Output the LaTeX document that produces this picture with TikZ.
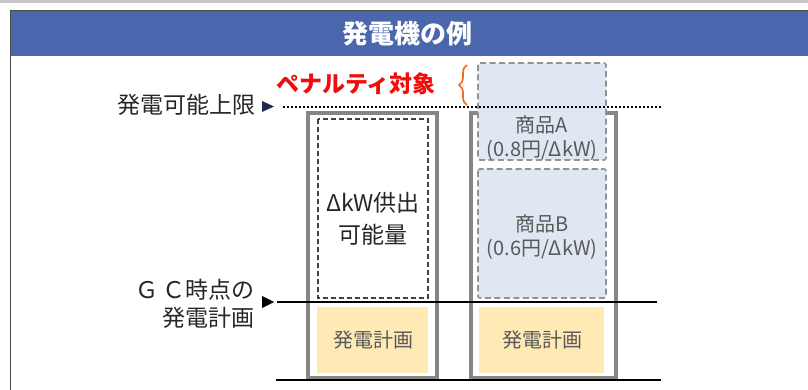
\documentclass[tikz,border=0pt]{standalone}
\usepackage{fontspec}
\setmainfont{Noto Sans CJK JP}
\usetikzlibrary{decorations.pathreplacing}
\definecolor{headblue}{HTML}{4A66AC}
\definecolor{offerblue}{HTML}{DEE7F2}
\definecolor{planyellow}{HTML}{FFEAB5}
\definecolor{penred}{HTML}{F20D0D}
\definecolor{braceorange}{HTML}{F26B21}
\definecolor{marknavy}{HTML}{1F2A4E}
\begin{document}
\begin{tikzpicture}[x=1pt,y=-1pt,
  lbl/.style={font=\fontsize{23}{28}\selectfont,text=black!85},
  unitbox/.style={draw=gray!95,line width=3.5pt},
  offer/.style={draw=gray!85,dash pattern=on 6pt off 3.5pt,line width=1.6pt,fill=offerblue,rounded corners=2pt},
  boxtxt/.style={font=\fontsize{20}{24}\selectfont,text=black!65,align=center}]
\useasboundingbox (0,0) rectangle (808,390);

% frame and header
\draw[gray!45,line width=3pt] (0,1.5) -- (808,1.5);
\fill[headblue] (10,11) rectangle (808,56);
\draw[black!70,line width=1pt] (10,390) -- (10,11) -- (808,11);
\node[text=white,font=\fontsize{26}{30}\selectfont\bfseries] (title) at (407,34) {発電機の例};

% left unit
\draw[unitbox] (308,113) rectangle (437,378);
\draw[black!75,dash pattern=on 5pt off 3pt,line width=1.2pt,fill=white] (318,119) rectangle (428,298);
\fill[planyellow] (317,307) rectangle (428,373);
\node[lbl,align=center,font=\fontsize{23}{32}\selectfont] (supply) at (373,219) {ΔkW供出\\可能量};
\node[boxtxt] (planL) at (373,340) {発電計画};

% right unit
\draw[unitbox] (471,113) rectangle (616,378);
\draw[offer] (478,63) rectangle (606,160);
\draw[offer] (478,169) rectangle (606,298);
\fill[planyellow] (479,307) rectangle (604,373);
\node[boxtxt] (offerA) at (542,138) {商品A\\(0.8円/ΔkW)};
\node[boxtxt] (offerB) at (542,237) {商品B\\(0.6円/ΔkW)};
\node[boxtxt] (planR) at (542,340) {発電計画};

% levels
\coordinate (limitL) at (283,107);
\coordinate (limitR) at (662,107);
\coordinate (gcL) at (277,302);
\coordinate (gcR) at (657,302);
\coordinate (baseL) at (276,380);
\coordinate (baseR) at (661,380);
\draw[line width=1.6pt,dash pattern=on 1.6pt off 2.4pt] (limitL) -- (limitR);
\draw[line width=1.4pt] (gcL) -- (gcR);
\draw[line width=1.4pt] (baseL) -- (baseR);

\fill[marknavy] (262,101) -- (274,106.5) -- (262,112) -- cycle;
\fill[black] (262,296) -- (274,302) -- (262,308) -- cycle;

\node[lbl,anchor=east] (limit) at (259,105) {発電可能上限};
\node[lbl,anchor=east,align=right] (gcplan) at (258,304) {Ｇ\,Ｃ時点の\\発電計画};

% penalty
\node[text=penred,font=\fontsize{23}{26}\selectfont\bfseries] (penalty) at (356,84) {ペナルティ対象};
\draw[braceorange,line width=1.7pt,decorate,decoration={brace,amplitude=8pt}]
  (467,105) -- (467,65);
\end{tikzpicture}
\end{document}
